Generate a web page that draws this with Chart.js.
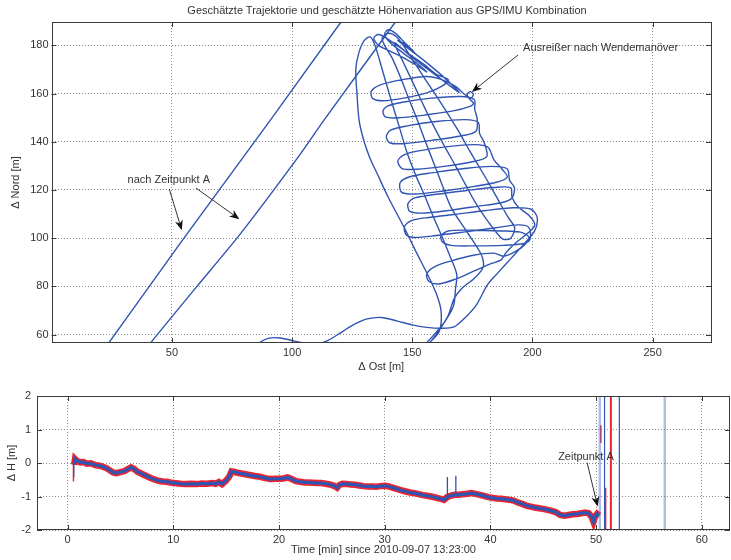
<!DOCTYPE html>
<html>
<head>
<meta charset="utf-8">
<script src="https://cdn.jsdelivr.net/npm/chart.js@4.4.1/dist/chart.umd.min.js"></script>
<style>
  html, body { margin: 0; padding: 0; background: #fff; overflow: hidden; }
  #page { position: relative; width: 731px; height: 560px; }
  .box { position: absolute; left: 0; width: 731px; }
  #trackBox { top: 0; height: 378px; }
  #heightBox { top: 380px; height: 180px; }
  #title {
    position: absolute; top: 3px; left: 387px; transform: translateX(-50%);
    white-space: nowrap; font: 11px "Liberation Sans", Arial, sans-serif;
    line-height: 14px; color: #333;
  }
</style>
</head>
<body>
<div id="page">
  <div class="box" id="trackBox"><canvas id="trackChart"></canvas></div>
  <div class="box" id="heightBox"><canvas id="heightChart"></canvas></div>
  <div id="title">Geschätzte Trajektorie und geschätzte Höhenvariation aus GPS/IMU Kombination</div>
</div>
<script>
// ---- trajectory, [east, north] in metres ----
const approach = [[78,50],[85.4,56],[90,58.4],[95,58.6],[101,57.3],[106,56.2],[110.4,56.1],[115,57.6],[120,60.6],[126,64.3],[131.3,66.5],[137,67.1],[143.9,65.6],[150,64],[156,63],[162,62.6],[167.4,63.2],[172,67],[176.5,72],[181.4,80.8],[186,86],[191,91.5],[196,97],[200.9,103]];

const loopsLower = [[202,108.5],[199.5,112],[192,112.6],[180,111.4],[168,109.9],[157,108.6],[150,107.4],[146.8,104.8],[147.5,101.3],[151,100.3],[160,101.1],[172,102.6],[184,104.2],[194,105.5],[198.5,104.5],
  [199,99.5],[196.5,97.8],[188,97],[176,96.8],[166,97],[162.5,98.5],[162,101],[165,103],[175,103.3],[187,103],[195,102.5],[198.5,100.5],[197,97.5],[193,94.5],
  [188,92.5],[184,93.8],[176,93],[166,90.5],[159,88],[156,85],[157,82],[161,81],[168,83],[176,86.5],[183,89.5],[187,91],[189,94],
  [193,98],[198,102],[201,105.5],[198.5,109.5],[194,113],[191.5,117]];

const loopsUpper = [[191,120.9],[184,121],[172,119.7],[160,118.2],[151,116.7],[148.2,114.3],[149,111.1],[154,110.4],[165,111.5],[177,113.2],[187,114.7],[191.5,116.7],
  [192.5,121],[190.5,124],
  [189.5,128.8],[183,129.8],[171,128.8],[158,127.1],[149,125.5],[145,123.1],[145.5,119.1],[151,118.3],[163,119.6],[176,121.5],[185,123.2],[189.5,125.3],
  [187.5,128.5],[184,132.5],
  [181.5,137.7],[176,138.8],[164,137.9],[152,136.1],[146,134.3],[144,131.9],[145.8,128.9],[152,128.6],[164,129.9],[175,131.7],[181,133.8],
  [180,139.5],[178,143.5],
  [177.5,148],[172,149.2],[160,148.4],[148,146.6],[141,144.8],[139.2,142.1],[140.8,139.5],[147,139.3],[158,140.6],[170,142.4],[176.5,144.4],
  [177,149.5],[176,153.5],
  [175.8,157.5],[170,158.8],[158,158.1],[146,156.4],[139.5,154.7],[137.8,152.6],[139,150.2],[145,150],[156,151.2],[167,152.8],[174,154.7],
  [175.5,156],[174,157.6],[172.8,159.4],[174,160.8],[175.4,159.8],[174.5,158.2],[172,159.5],
  [168,163],[162,165.9],[156,167.1],[146,165.8],[137,163.7],[133,161],[133.5,158],[138,157],[147,158.2],[156,160.3],[162,162.9],[165,165.7]];

const knot = [[160,168],[155,172],[150,175.5],[145,179],[140,182.5],[136,184.5],[134,183],[136,180],[141,177.5],[147,174.5],[153,171],[156,169],[152,172.5],[146,177],[141,181],[138.5,184.5],[140,186.5],[143,185],[147,181],[151,177],[147,180.5],[144,182],
  [150,177.5],[157,172],[164,166],[169.5,160.5],[166,163],[158,169],[150,175],[143,181]];

const crossLines = [[142.5,180.8],[146.5,172.5],[151,163],[155,154.5],[159.2,146],[163.5,138],[168,130],[172,122.5],[175.9,115.4],[180,109],[183,105],[185.7,101.5],[188,99.5],[191,100],[192.6,104.3],
  [190,108.5],[186.5,114.5],[182.9,121],[178.5,128.5],[174,136],[169.5,144],[164.8,151.6],[160,159],[155,166.5],[150.5,173.5],[146.7,179.4],[143.5,183.5],[140,185],[137.5,183],
  [138.5,180],[141.5,175],[145,167],[148.5,158],[152.2,148.8],[155.5,140],[159,131],[162.5,122],[166.2,112.7],[172.5,103],[178.7,93.2],[179.5,88],[176,83.5],[171,79.5],[167.5,75],[165,68],[161.9,62.8],[158,57.5],[154,53],[150,49]];

const outerLegs = [[148,49],[152,52.5],[156,56.6],[160,61],[164,66],[167.2,72],[168,79],[168.5,85],[165.5,93],[162,101.5],[158.5,109.5],[155,118],[151.5,126],[148,135],[144.5,146.5],[141,158],[137.5,170],[134.5,180],[132.5,183.5],[130,182],
  [127.8,177],[126.5,170],[127,160],[127.9,148.8],[130,140],[132.5,133],[135.5,126.6],[140,117],[146.7,104.3],[151.5,94.5],[156.4,84.9],[160,77],[162,69.7],[161.2,61.3],[156.4,55.8],[153,51]];

// the two straight legs after "Zeitpunkt A"
const legAEast1  = [17, 23.4, 54.7, 90.9, 120.2, 123];
const legANorth1 = [47, 56.1, 99.6, 148.9, 189.5, 193.5];
const legAEast2  = [35, 40.8, 60, 78.4, 103.5, 113.2, 141.1, 145];
const legANorth2 = [48, 56.1, 79.5, 101.7, 135, 148.9, 187.1, 192.5];

const trackTicksX = [50, 100, 150, 200, 250];
const trackTicksY = [60, 80, 100, 120, 140, 160, 180];

// ---- height variation over time ----
const hTime = [0.62,0.7,0.9,1.2,1.5,1.8,2.2,2.6,3.0,3.4,3.7,4.0,4.3,4.6,5.0,5.4,5.7,6.0,6.3,6.6,7.0,7.4,7.8,8.2,8.6,9.0,9.4,9.7,10.2,10.7,11.2,11.7,12.2,12.7,13.2,13.7,14.0,14.3,14.6,15.0,15.3,15.5,15.8,16.2,16.7,17.2,17.7,18.2,18.7,19.2,19.6,20.0,20.4,20.8,21.2,21.6,22.0,22.4,22.8,23.2,23.6,24.0,24.4,24.8,25.2,25.5,25.7,26.0,26.4,26.8,27.2,27.6,28.0,28.4,28.8,29.2,29.6,30.0,30.4,30.8,31.2,31.6,32.0,32.4,32.8,33.2,33.6,34.0,34.4,34.8,35.2,35.6,35.9,36.2,36.6,37.0,37.4,37.8,38.2,38.6,39.0,39.4,39.8,40.2,40.6,41.0,41.4,41.8,42.2,42.6,43.0,43.4,43.8,44.2,44.6,45.0,45.4,45.8,46.2,46.6,47.0,47.4,47.8,48.2,48.6,49.0,49.3,49.6,49.75,49.9,50.1,50.3];
const dH = [-0.05,0.12,0.06,0.02,0.03,-0.02,-0.01,-0.06,-0.08,-0.12,-0.16,-0.22,-0.28,-0.3,-0.27,-0.24,-0.18,-0.13,-0.18,-0.26,-0.32,-0.38,-0.44,-0.49,-0.53,-0.55,-0.56,-0.58,-0.6,-0.62,-0.63,-0.62,-0.63,-0.61,-0.62,-0.6,-0.62,-0.57,-0.63,-0.52,-0.4,-0.25,-0.27,-0.3,-0.33,-0.36,-0.39,-0.41,-0.45,-0.48,-0.47,-0.47,-0.46,-0.43,-0.48,-0.54,-0.56,-0.58,-0.58,-0.59,-0.6,-0.6,-0.62,-0.64,-0.68,-0.74,-0.66,-0.62,-0.63,-0.64,-0.65,-0.67,-0.69,-0.7,-0.7,-0.71,-0.69,-0.68,-0.7,-0.74,-0.78,-0.82,-0.85,-0.88,-0.9,-0.93,-0.96,-0.98,-1.0,-1.03,-1.06,-1.1,-1.02,-0.98,-0.95,-0.95,-0.93,-0.92,-0.9,-0.92,-0.95,-0.98,-1.02,-1.04,-1.06,-1.07,-1.08,-1.1,-1.12,-1.18,-1.22,-1.27,-1.3,-1.33,-1.35,-1.37,-1.4,-1.43,-1.47,-1.55,-1.57,-1.55,-1.53,-1.52,-1.5,-1.48,-1.5,-1.62,-1.75,-1.6,-1.52,-1.57];

// short outliers: time, low end, high end
const blueSpikeT = [0.58, 35.93, 36.73], blueSpikeLo = [-0.42, -1.05, -0.97], blueSpikeHi = [0.15, -0.42, -0.38];
const redSpikeT  = [0.55, 50.45, 50.9],  redSpikeLo  = [-0.55, 0.6, -2.1],   redSpikeHi  = [0.05, 1.13, -0.74];
// estimates leaving the plotted range after point A
const jumpT = [50.35, 50.8, 51.4, 52.2, 56.5];

const heightTicksX = [0, 10, 20, 30, 40, 50, 60];
const heightTicksY = [-2, -1, 0, 1, 2];

// annotation text / arrows, in data units
const trackNotes = [
  { text: 'Ausreißer nach Wendemanöver', x: 196.1, y: 179, align: 'left' },
  { text: 'nach Zeitpunkt A', x: 48.7, y: 124.2, align: 'center' }
];
const trackArrows = [[194, 176, 174.8, 160.7], [48.9, 120.4, 54.1, 103.3], [60, 120.8, 78.1, 107.9]];
const heightNotes = [{ text: 'Zeitpunkt A', x: 49.04, y: 0.18, align: 'center' }];
const heightArrows = [[49.15, 0.01, 50.15, -1.3]];

const BLUE = 'rgb(48,84,178)';
const RED = 'rgb(234,38,48)';
const PALE = 'rgba(80,110,190,0.45)';
const FONT = { family: '"Liberation Sans", Arial, sans-serif', size: 11 };
const INK = '#333';

const toXY = pts => pts.map(p => ({ x: p[0], y: p[1] }));
const zipXY = (xs, ys) => xs.map((v, i) => ({ x: v, y: ys[i] }));

function drawArrow(ctx, x0, y0, x1, y1) {
  const a = Math.atan2(y1 - y0, x1 - x0), c = Math.cos(a), s = Math.sin(a);
  ctx.beginPath();
  ctx.moveTo(x0, y0);
  ctx.lineTo(x1 - 6 * c, y1 - 6 * s);
  ctx.stroke();
  ctx.beginPath();
  ctx.moveTo(x1, y1);
  ctx.lineTo(x1 - 10 * c - 4 * s, y1 - 10 * s + 4 * c);
  ctx.lineTo(x1 - 7 * c, y1 - 7 * s);
  ctx.lineTo(x1 - 10 * c + 4 * s, y1 - 10 * s - 4 * c);
  ctx.closePath();
  ctx.fill();
}

// box, inward tick marks and annotations
const frame = {
  id: 'frame',
  afterDatasetsDraw(chart, args, opts) {
    const { ctx, chartArea: a, scales: { x, y } } = chart;
    ctx.save();
    ctx.strokeStyle = '#3a3a3a';
    ctx.lineWidth = 1;
    ctx.beginPath();
    x.ticks.forEach(t => {
      const px = Math.round(x.getPixelForValue(t.value)) + 0.5;
      ctx.moveTo(px, a.top); ctx.lineTo(px, a.top + 5);
      ctx.moveTo(px, a.bottom); ctx.lineTo(px, a.bottom - 5);
    });
    y.ticks.forEach(t => {
      const py = Math.round(y.getPixelForValue(t.value)) + 0.5;
      ctx.moveTo(a.left, py); ctx.lineTo(a.left + 5, py);
      ctx.moveTo(a.right, py); ctx.lineTo(a.right - 5, py);
    });
    ctx.stroke();
    ctx.strokeRect(Math.round(a.left) + 0.5, Math.round(a.top) + 0.5, Math.round(a.width) - 1, Math.round(a.height) - 1);

    ctx.strokeStyle = '#333';
    ctx.fillStyle = '#111';
    (opts.arrows || []).forEach(r => {
      drawArrow(ctx, x.getPixelForValue(r[0]), y.getPixelForValue(r[1]),
                x.getPixelForValue(r[2]), y.getPixelForValue(r[3]));
    });
    ctx.fillStyle = INK;
    ctx.font = '11px "Liberation Sans", Arial, sans-serif';
    ctx.textBaseline = 'middle';
    (opts.notes || []).forEach(n => {
      ctx.textAlign = n.align;
      ctx.fillText(n.text, x.getPixelForValue(n.x), y.getPixelForValue(n.y));
    });
    ctx.restore();
  }
};

function axis(opts) {
  return {
    type: 'linear',
    position: opts.position,
    min: opts.min,
    max: opts.max,
    afterBuildTicks: s => { s.ticks = opts.ticks.map(v => ({ value: v })); },
    afterFit: s => {
      if (opts.position === 'left') s.width = opts.size; else s.height = opts.size;
    },
    ticks: { color: INK, font: FONT, padding: opts.pad, maxRotation: 0, autoSkip: false, callback: v => String(v) },
    grid: { color: '#8c8c8c', lineWidth: 1, drawTicks: false },
    border: { display: false, dash: [1, 2] },
    title: { display: true, text: opts.title, color: INK, font: FONT, padding: opts.titlePad }
  };
}

const line = (data, color, width, order, tension) => ({
  data, borderColor: color, borderWidth: width, showLine: true,
  pointRadius: 0, fill: false, order, tension: tension || 0
});

Chart.defaults.font.family = FONT.family;

new Chart(document.getElementById('trackChart'), {
  type: 'scatter',
  data: {
    datasets: [
      line(toXY([].concat(approach, loopsLower, loopsUpper, knot, crossLines, outerLegs)), BLUE, 1.4, 1, 0.3),
      line(zipXY(legAEast1, legANorth1), BLUE, 1.4, 2),
      line(zipXY(legAEast2, legANorth2), BLUE, 1.4, 2, 0.2)
    ]
  },
  options: {
    responsive: true, maintainAspectRatio: false, animation: false, events: [],
    devicePixelRatio: 1,
    layout: { padding: { top: 22, right: 20, left: 0, bottom: 0 } },
    plugins: { legend: { display: false }, tooltip: { enabled: false },
      frame: { notes: trackNotes, arrows: trackArrows } },
    scales: {
      x: axis({ position: 'bottom', min: -0.1, max: 274.3, ticks: trackTicksX, size: 35, pad: 3,
                title: 'Δ Ost [m]', titlePad: { top: 0, bottom: 4.4 } }),
      y: axis({ position: 'left', min: 56.5, max: 189.7, ticks: trackTicksY, size: 51.5, pad: 3,
                title: 'Δ Nord [m]', titlePad: { top: 9, bottom: 0 } })
    }
  },
  plugins: [frame]
});

const heightSets = [
  line(zipXY(hTime, dH), BLUE, 3.2, 1),
  line(zipXY(hTime, dH), RED, 6.5, 3)
];
blueSpikeT.forEach((t, i) => heightSets.push(line([{ x: t, y: blueSpikeLo[i] }, { x: t, y: blueSpikeHi[i] }], BLUE, 1.3, 0)));
redSpikeT.forEach((t, i) => heightSets.push(line([{ x: t, y: redSpikeLo[i] }, { x: t, y: redSpikeHi[i] }], RED, 1.5, 2)));
const jumpStyle = [[PALE, 2.5], [BLUE, 1.2], [RED, 2], [BLUE, 1.2], [PALE, 2.5]];
jumpT.forEach((t, i) => heightSets.push(line([{ x: t, y: -3 }, { x: t, y: 3 }], jumpStyle[i][0], jumpStyle[i][1], 0)));

new Chart(document.getElementById('heightChart'), {
  type: 'scatter',
  data: { datasets: heightSets },
  options: {
    responsive: true, maintainAspectRatio: false, animation: false, events: [],
    devicePixelRatio: 1,
    layout: { padding: { top: 16, right: 1, left: 0, bottom: 0 } },
    plugins: { legend: { display: false }, tooltip: { enabled: false },
      frame: { notes: heightNotes, arrows: heightArrows } },
    scales: {
      x: axis({ position: 'bottom', min: -2.9, max: 62.67, ticks: heightTicksX, size: 30, pad: 3.4,
                title: 'Time [min] since 2010-09-07 13:23:00', titlePad: { top: 0, bottom: 3.4 } }),
      y: axis({ position: 'left', min: -2, max: 2, ticks: heightTicksY, size: 37, pad: 6,
                title: 'Δ H [m]', titlePad: { top: 5.4, bottom: 0 } })
    }
  },
  plugins: [frame]
});
</script>
</body>
</html>
